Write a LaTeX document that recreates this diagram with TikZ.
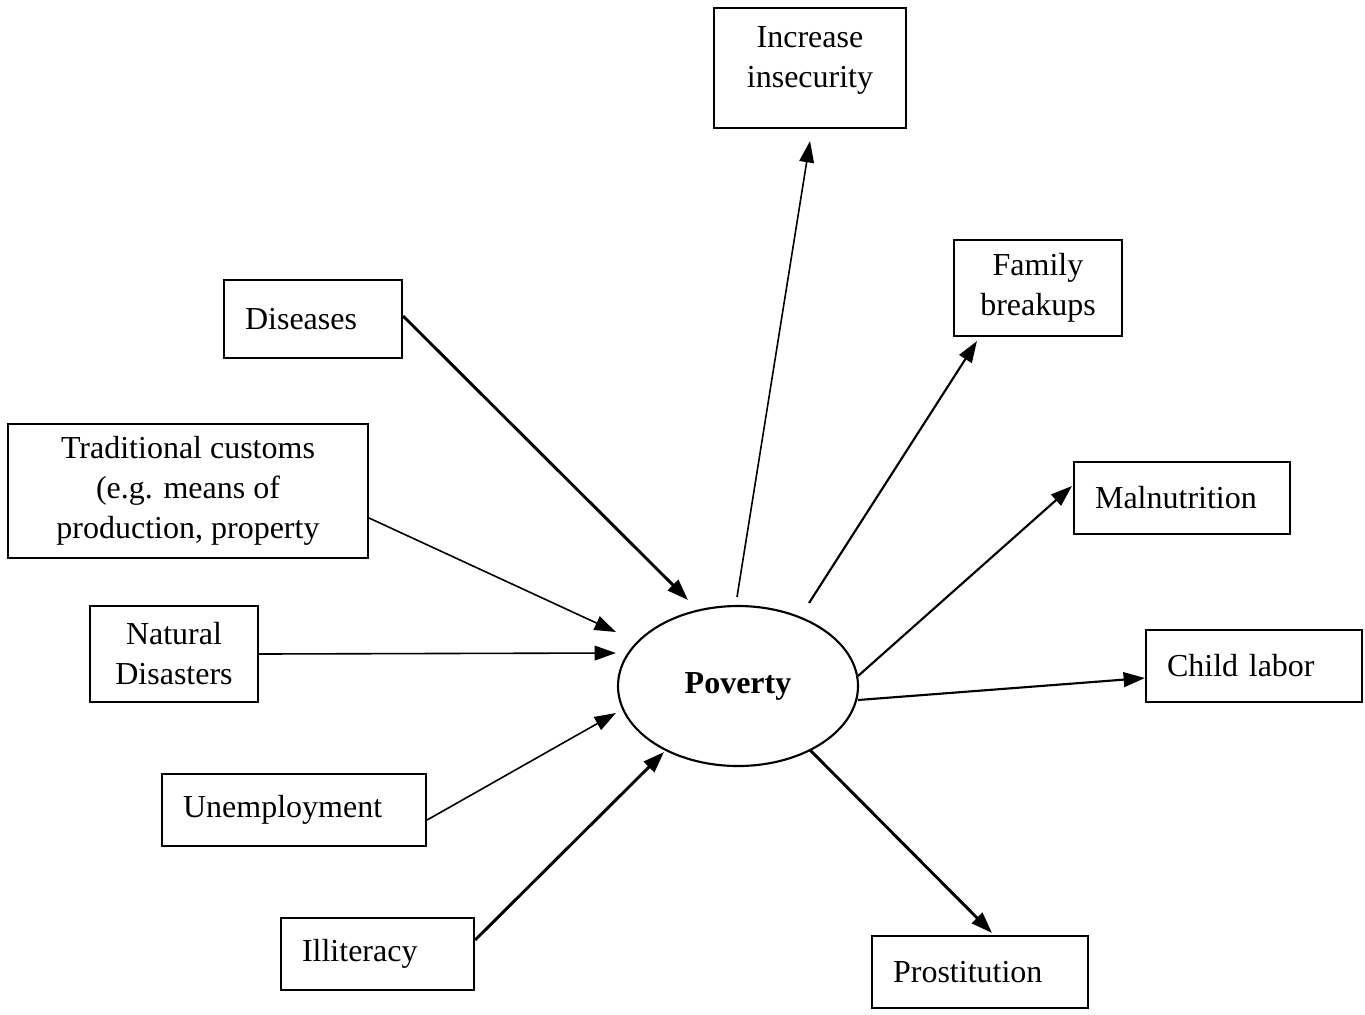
\documentclass[tikz,border=0pt]{standalone}
\usepackage{fontspec}
\setmainfont{Liberation Serif}
\usetikzlibrary{shapes.geometric, arrows.meta, calc}
\tikzstyle{cbox} = [rectangle, draw=black, line width=0.8pt, align=center, inner sep=0pt]
\tikzstyle{lbox} = [rectangle, draw=black, line width=0.8pt, align=left, inner xsep=7.9pt, inner ysep=0pt, minimum height=27pt]
\tikzstyle{oval} = [ellipse, draw=black, line width=0.8pt, minimum width=90pt, minimum height=60pt, font=\fontsize{12}{15}\selectfont\bfseries]
\tikzstyle{arrow} = [line width=0.6pt, -{Triangle[length=8pt,width=5.5pt]}]
\tikzstyle{thickarrow} = [arrow, line width=1.1pt]

\begin{document}
\begin{tikzpicture}[x=0.375pt, y=-0.375pt, font=\fontsize{12}{15}\selectfont]
	\useasboundingbox (0,0) rectangle (1365,1014);
	\node (pov) [oval] at (738,686) {Poverty};
	
	% causes
	\node (dis) [lbox, text width=50.95pt, minimum height=29.25pt] at (313,319) {Diseases};
	\node (trad) [cbox, minimum width=135pt, minimum height=50.25pt] at (188,491) {Traditional customs\\(e.g. means of\\production, property};
	\node (nat) [cbox, minimum width=63pt, minimum height=36pt] at (174,654) {Natural\\Disasters};
	\node (unemp) [lbox, text width=83.2pt] at (294,810) {Unemployment};
	\node (illit) [lbox, text width=56.6pt] at (377.5,954) {Illiteracy};
	
	% effects
	\node (ins) [cbox, minimum width=72pt, minimum height=45pt] at (810,68) {Increase\\insecurity\\[-7pt]};
	\node (fam) [cbox, minimum width=63pt, minimum height=36pt] at (1038,288) {Family\\breakups};
	\node (mal) [lbox, text width=65.2pt] at (1182,498) {Malnutrition};
	\node (child) [lbox, text width=65.2pt] at (1254,666) {Child labor};
	\node (pros) [lbox, text width=65.2pt] at (980,972) {Prostitution};
	
	\draw [thickarrow] ($(dis.east)+(0,-3)$) -- ($(pov)+(-50,-86)$);
	\draw [arrow] ($(trad.east)+(0,27)$) -- ($(pov.west)+(-1,-54)$);
	\draw [arrow] (nat.east) -- ($(pov.west)+(-1,-33)$);
	\draw [arrow] ($(unemp.east)+(0,10)$) -- ($(pov.west)+(-1,27)$);
	\draw [thickarrow] ($(illit.east)+(0,-14)$) -- ($(pov)+(-74,66)$);
	
	\draw [arrow] ($(pov)+(-1,-89)$) -- ($(ins.south)+(0,12)$);
	\draw [arrow, line width=0.8pt] ($(pov)+(71,-83)$) -- ($(fam.south west)+(24,4)$);
	\draw [arrow, line width=0.8pt] ($(pov)+(120,-10)$) -- ($(mal.west)+(-1,-12)$);
	\draw [arrow, line width=0.8pt] ($(pov)+(120,14)$) -- ($(child.west)+(0,12)$);
	\draw [thickarrow] ($(pov)+(72,64)$) -- ($(pros.north)+(12,-2)$);
\end{tikzpicture}
\end{document}
